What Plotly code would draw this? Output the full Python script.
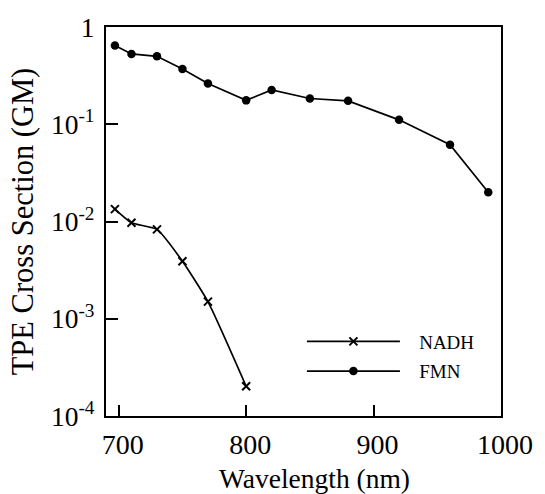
import plotly.graph_objects as go

wl_fmn = [697, 710, 730, 750, 770, 800, 820, 850, 880, 920, 960, 990]
fmn = [0.645, 0.528, 0.50, 0.37, 0.262, 0.176, 0.225, 0.184, 0.174, 0.111, 0.0617, 0.020]

wl_nadh = [697, 710, 730, 750, 770, 800]
nadh = [0.0134, 0.0097, 0.0083, 0.0039, 0.0015, 0.000202]

x_ticks = [700, 800, 900, 1000]
y_ticks = [1e-4, 1e-3, 1e-2, 1e-1, 1]
y_tick_text = ["10<sup>-4</sup>", "10<sup>-3</sup>", "10<sup>-2</sup>", "10<sup>-1</sup>", "1"]

font_family = "Liberation Serif"
nb = "\u00a0"

fig = go.Figure()
fig.add_trace(go.Scatter(
    x=wl_nadh, y=nadh, name=nb * 3 + "NADH", mode="lines+markers",
    legendgroup="a",
    line=dict(color="black", width=1.7, shape="spline", smoothing=0.5),
    marker=dict(symbol="x-thin", size=8, line=dict(color="black", width=2)),
))
fig.add_trace(go.Scatter(
    x=wl_fmn, y=fmn, name=nb * 3 + "FMN", mode="lines+markers",
    legendgroup="b",
    line=dict(color="black", width=1.7),
    marker=dict(symbol="circle", size=8.5, color="black"),
))

fig.update_layout(
    width=545, height=494,
    margin=dict(l=106, r=38, t=17, b=78),
    paper_bgcolor="white", plot_bgcolor="white",
    font=dict(family=font_family, color="black", size=28),
    showlegend=True,
    legend=dict(
        x=0.496, y=0.153, xanchor="left", yanchor="middle",
        bgcolor="rgba(0,0,0,0)", font=dict(size=19, family=font_family),
        itemwidth=93, tracegroupgap=2, traceorder="grouped",
    ),
    xaxis=dict(
        range=[690, 1000], tickvals=x_ticks, ticks="inside", ticklen=11,
        tickwidth=1.8, tickcolor="black", showline=True, linecolor="black",
        linewidth=2, mirror=True, showgrid=False, zeroline=False,
        tickfont=dict(size=28), ticklabelshift=4, ticklabelstandoff=2,
    ),
    yaxis=dict(
        type="log", range=[-4, 0], tickvals=y_ticks, ticktext=y_tick_text,
        ticks="inside", ticklen=12, tickwidth=1.8, tickcolor="black",
        showline=True, linecolor="black", linewidth=2, mirror=True,
        showgrid=False, zeroline=False, ticklabelstandoff=4,
        title=dict(text="TPE Cross Section (GM)", font=dict(size=30.5), standoff=8),
        tickfont=dict(size=27.5),
    ),
    annotations=[dict(
        text="Wavelength (nm)", xref="paper", yref="paper",
        x=0.527, y=-0.160, xanchor="center", yanchor="middle",
        showarrow=False, font=dict(size=27.5, family=font_family),
    )],
)

fig.write_html("out.html")
